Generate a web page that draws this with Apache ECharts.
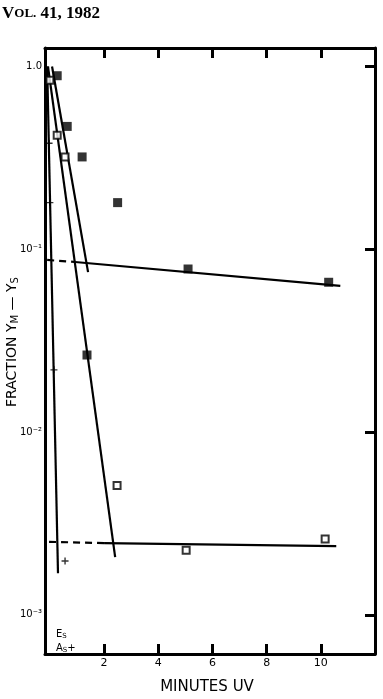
<!DOCTYPE html>
<html>
<head>
<meta charset="utf-8">
<title>Fraction YM - YS vs minutes UV</title>
<script src="https://cdn.jsdelivr.net/npm/echarts@6/dist/echarts.min.js"></script>
<style>
    html, body { margin: 0; padding: 0; background: #fff; }
    #chart { width: 383px; height: 699px; }
</style>
</head>
<body>
<div id="chart"></div>
<script>
// points: [minutes UV, fraction]
var filledSquares = [[0.27, 0.89], [0.64, 0.47], [1.19, 0.32], [2.5, 0.18], [5.1, 0.078], [10.29, 0.066], [1.37, 0.0264]];
var openSquares = [[0.0, 0.84], [0.27, 0.42], [0.56, 0.32], [2.48, 0.0051], [5.03, 0.00226], [10.16, 0.0026]];
var plusPoints = [[-0.03, 0.38], [0.0, 0.18], [0.15, 0.0219], [0.56, 0.00197]];

// fitted lines
var plusLine = [[-0.1, 1.0], [0.30, 0.00169]];
var fastLineA = [[0.08, 1.0], [1.41, 0.075]];
var fastLineB = [[-0.07, 1.0], [2.41, 0.00207]];
var filledTailDashed = [[-0.1, 0.0874], [0.93, 0.0852]];
var filledTail = [[0.93, 0.0852], [10.72, 0.063]];
var openTailDashed = [[-0.03, 0.00251], [2.0, 0.00247]];
var openTail = [[2.0, 0.00247], [10.57, 0.00238]];

var xTicks = [2, 4, 6, 8, 10];
var yTicks = [0.001, 0.01, 0.1, 1];
var yTickLabels = {'0.001': '10⁻³', '0.01': '10⁻²', '0.1': '10⁻¹', '1': '1.0'};

let chart = echarts.init(document.getElementById('chart'));

function lineSeries(data, dashed) {
    return {
        type: 'line',
        data: data,
        symbol: 'none',
        silent: true,
        lineStyle: { color: '#000', width: 2.2, type: dashed ? [7, 5] : 'solid' },
        z: 2
    };
}

let frameLine = { show: true, onZero: false, lineStyle: { color: '#000', width: 3 } };
let innerTick = { show: true, inside: true, length: 10, customValues: xTicks, lineStyle: { color: '#000', width: 3 } };

let option = {
    animation: false,
    grid: { left: 45, top: 48, width: 330, height: 606 },
    xAxis: [{
        type: 'value',
        min: -0.18,
        max: 12,
        position: 'bottom',
        axisLine: frameLine,
        axisTick: innerTick,
        splitLine: { show: false },
        axisLabel: {
            customValues: xTicks,
            color: '#000',
            fontSize: 11,
            fontFamily: 'DejaVu Sans',
            margin: 4
        }
    }, {
        type: 'value',
        min: -0.18,
        max: 12,
        position: 'top',
        axisLine: frameLine,
        axisTick: innerTick,
        splitLine: { show: false },
        axisLabel: { show: false }
    }],
    yAxis: [{
        type: 'log',
        min: 0.000611,
        max: 1.262,
        position: 'left',
        axisLine: frameLine,
        axisTick: { show: false },
        splitLine: { show: false },
        axisLabel: {
            customValues: yTicks,
            color: '#000',
            fontSize: 10,
            fontFamily: 'DejaVu Sans',
            margin: 3,
            formatter: function (v) {
                return yTickLabels[String(v)] || '';
            }
        }
    }, {
        type: 'log',
        min: 0.000611,
        max: 1.262,
        position: 'right',
        axisLine: frameLine,
        axisTick: { show: true, inside: true, length: 10, customValues: yTicks, lineStyle: { color: '#000', width: 3 } },
        splitLine: { show: false },
        axisLabel: { show: false }
    }],
    series: [
        lineSeries(plusLine),
        lineSeries(fastLineA),
        lineSeries(fastLineB),
        lineSeries(filledTailDashed, true),
        lineSeries(filledTail),
        lineSeries(openTailDashed, true),
        lineSeries(openTail),
        {
            name: 'filled',
            type: 'scatter',
            data: filledSquares,
            symbol: 'rect',
            symbolSize: 9,
            itemStyle: { color: '#000' },
            z: 3
        },
        {
            name: 'open',
            type: 'scatter',
            data: openSquares,
            symbol: 'rect',
            symbolSize: 7,
            itemStyle: { color: '#fff', borderColor: '#000', borderWidth: 2 },
            z: 3
        },
        {
            name: 'plus',
            type: 'scatter',
            data: plusPoints,
            symbol: 'path://M4,0 L6,0 L6,4 L10,4 L10,6 L6,6 L6,10 L4,10 L4,6 L0,6 L0,4 L4,4 Z',
            symbolSize: 7,
            itemStyle: { color: '#000' },
            z: 3
        }
    ],
    graphic: [
        {
            type: 'text',
            left: 2,
            top: 5,
            style: {
                text: '{a|V}{b|OL.}{a| 41, 1982}',
                rich: {
                    a: { fontFamily: 'Liberation Serif', fontWeight: 'bold', fontSize: 17, fill: '#000' },
                    b: { fontFamily: 'Liberation Serif', fontWeight: 'bold', fontSize: 13, fill: '#000' }
                }
            }
        },
        {
            type: 'text',
            x: 12,
            y: 342,
            rotation: Math.PI / 2,
            style: {
                text: '{t|FRACTION Y}{s|M}{t| — Y}{s|S}',
                align: 'center',
                verticalAlign: 'middle',
                rich: {
                    t: { fontFamily: 'DejaVu Sans', fontSize: 14, fill: '#000' },
                    s: { fontFamily: 'DejaVu Sans', fontSize: 10, fill: '#000', padding: [6, 0, 0, 0] }
                }
            }
        },
        {
            type: 'text',
            x: 207,
            y: 687,
            style: {
                text: 'MINUTES UV',
                align: 'center',
                verticalAlign: 'middle',
                font: '15px "DejaVu Sans"',
                fill: '#000'
            }
        },
        {
            type: 'text',
            x: 56,
            y: 627,
            style: {
                text: '{t|E}{s|S}\n{t|A}{s|S}{t|+}',
                rich: {
                    t: { fontFamily: 'DejaVu Sans', fontSize: 10, fill: '#000', lineHeight: 14 },
                    s: { fontFamily: 'DejaVu Sans', fontSize: 7, fill: '#000', padding: [4, 0, 0, 0], lineHeight: 14 }
                }
            }
        }
    ]
};
chart.setOption(option);
</script>
</body>
</html>
